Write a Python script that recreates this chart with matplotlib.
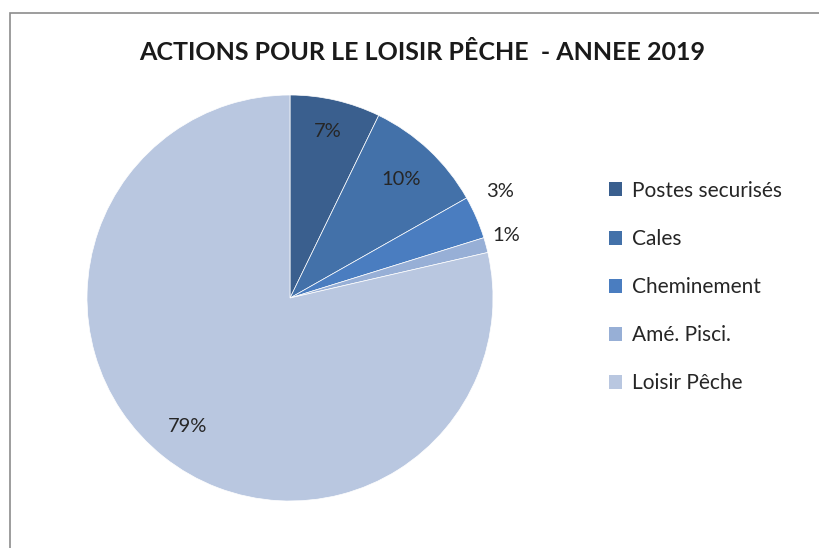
import matplotlib.pyplot as plt
from matplotlib.patches import Rectangle, Patch
import numpy as np

plt.rcParams['font.family'] = ['Lato', 'DejaVu Sans']

labels = ["Postes securisés", "Cales", "Cheminement", "Amé. Pisci.", "Loisir Pêche"]
values = [7.2, 9.6, 3.4, 1.2, 78.6]
pct_text = ["7%", "10%", "3%", "1%", "79%"]
colors = ["#3A5F8E", "#4371A9", "#4A7DC0", "#97AFD6", "#B9C7E0"]
label_dist = [0.84, 0.80, 1.16, 1.11, 0.81]
label_shift = [0, 0, 3.5, 1, 0]  # degrees, to mimic Excel's best-fit placement

fig = plt.figure(figsize=(8.19, 5.48), dpi=100)
fig.patches.append(Rectangle((0.012, -0.1), 1.2, 1.076, transform=fig.transFigure,
                             fill=False, edgecolor="#8c8c8c", linewidth=1.2))

ax = fig.add_axes([87 / 819, 47 / 548, 406 / 819, 406 / 548])
wedges, _ = ax.pie(values, colors=colors, startangle=90, counterclock=False,
                   wedgeprops=dict(edgecolor="white", linewidth=0.5))
ax.set_xlim(-1, 1)
ax.set_ylim(-1, 1)
ax.set_aspect("equal")

for w, t, d, s in zip(wedges, pct_text, label_dist, label_shift):
    mid = np.deg2rad((w.theta1 + w.theta2) / 2 + s)
    ax.text(d * np.cos(mid), d * np.sin(mid), t, ha="center", va="center",
            fontsize=14.5, color="#262626", clip_on=False)

fig.text(0.516, 0.905, "ACTIONS POUR LE LOISIR PÊCHE  - ANNEE 2019", ha="center",
         va="center", fontsize=18, fontweight="bold", color="#1a1a1a")

handles = [Patch(facecolor=c, edgecolor="none") for c in colors]
fig.legend(handles, labels, loc="upper left", bbox_to_anchor=(590 / 819, 1 - 162 / 548),
           frameon=False, fontsize=15, labelspacing=1.35, handlelength=0.65,
           handleheight=0.65, handletextpad=0.45, labelcolor="#262626")

fig.savefig("out.png", dpi=100)
